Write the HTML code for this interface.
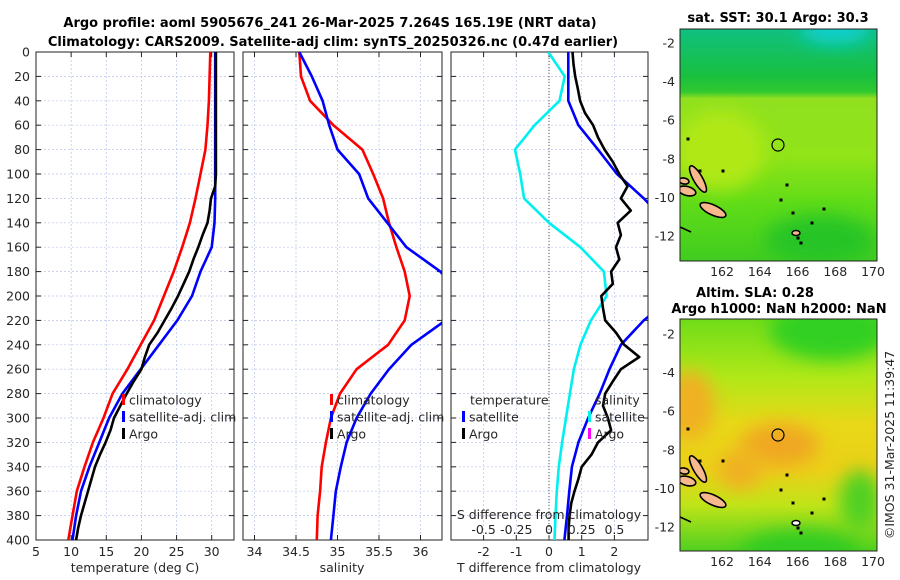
<!DOCTYPE html>
<html><head><meta charset="utf-8">
<style>
html,body{margin:0;padding:0;background:#fff;}
svg{display:block;font-family:"DejaVu Sans","Liberation Sans",sans-serif;}
.t{font-size:12.5px;fill:#262626;}
.b{font-size:13px;font-weight:bold;fill:#000;}
</style></head>
<body>
<svg id="fig" width="900" height="580" viewBox="0 0 900 580">
<defs>
<clipPath id="c1"><rect x="36" y="52" width="198" height="488"/></clipPath>
<clipPath id="c2"><rect x="243" y="52" width="199" height="488"/></clipPath>
<clipPath id="c3"><rect x="451" y="52" width="197" height="488"/></clipPath>
<clipPath id="cm1"><rect x="680" y="29" width="197" height="232"/></clipPath>
<clipPath id="cm2"><rect x="680" y="319" width="197" height="232"/></clipPath>
<filter id="blur" x="-50%" y="-50%" width="200%" height="200%"><feGaussianBlur stdDeviation="9"/></filter>
<linearGradient id="sstg" x1="0" y1="0" x2="0" y2="1">
<stop offset="0" stop-color="#10c080"/><stop offset="0.2" stop-color="#18c040"/>
<stop offset="0.27" stop-color="#30c830"/><stop offset="0.3" stop-color="#90e020"/>
<stop offset="0.55" stop-color="#90e418"/><stop offset="0.75" stop-color="#60dc18"/>
<stop offset="1" stop-color="#40cc20"/></linearGradient>
<linearGradient id="slag" x1="0" y1="0" x2="0" y2="1">
<stop offset="0" stop-color="#70dc18"/><stop offset="0.25" stop-color="#b0e818"/>
<stop offset="0.45" stop-color="#e8d818"/><stop offset="0.65" stop-color="#ecd018"/>
<stop offset="0.8" stop-color="#c0e418"/><stop offset="1" stop-color="#50d020"/></linearGradient>
</defs>
<g id="panels"></g>
<text class="b" x="330" y="27" text-anchor="middle">Argo profile: aoml 5905676_241 26-Mar-2025 7.264S 165.19E (NRT data)</text>
<text class="b" x="333" y="46" text-anchor="middle">Climatology: CARS2009. Satellite-adj clim: synTS_20250326.nc (0.47d earlier)</text>

<g>
<g clip-path="url(#cm1)">
<rect x="680" y="29" width="197" height="232" fill="url(#sstg)"/>
<ellipse cx="835" cy="30" rx="35" ry="14" fill="#10d0d0" filter="url(#blur)"/>
<ellipse cx="720" cy="150" rx="45" ry="40" fill="#b0e818" filter="url(#blur)"/>
<ellipse cx="820" cy="240" rx="55" ry="25" fill="#28c428" filter="url(#blur)"/>
<g id="isl1"></g>
</g>
<rect x="680" y="29" width="197" height="232" fill="none" stroke="#222" stroke-width="1"/>
<circle cx="778" cy="145" r="6" fill="none" stroke="#000" stroke-width="1.2"/>
</g>
<text class="b" x="778" y="22" text-anchor="middle">sat. SST: 30.1 Argo: 30.3</text>

<g>
<g clip-path="url(#cm2)">
<rect x="680" y="319" width="197" height="232" fill="url(#slag)"/>
<ellipse cx="830" cy="330" rx="60" ry="30" fill="#30d020" filter="url(#blur)"/>
<ellipse cx="690" cy="405" rx="25" ry="35" fill="#f0b020" filter="url(#blur)"/>
<ellipse cx="780" cy="445" rx="40" ry="22" fill="#f0a820" filter="url(#blur)"/>
<ellipse cx="740" cy="470" rx="22" ry="20" fill="#f0b020" filter="url(#blur)"/>
<ellipse cx="800" cy="552" rx="60" ry="22" fill="#30cc20" filter="url(#blur)"/>
<ellipse cx="860" cy="500" rx="20" ry="30" fill="#50d020" filter="url(#blur)"/>
<g id="isl2"></g>
</g>
<rect x="680" y="319" width="197" height="232" fill="none" stroke="#222" stroke-width="1"/>
<circle cx="778" cy="435" r="6" fill="none" stroke="#000" stroke-width="1.2"/>
</g>
<text class="b" x="755" y="297" text-anchor="middle">Altim. SLA: 0.28</text>
<text class="b" x="779" y="313" text-anchor="middle">Argo h1000: NaN h2000: NaN</text>
<text class="t" transform="translate(894,445) rotate(-90)" text-anchor="middle">©IMOS 31-Mar-2025 11:39:47</text>
</svg>
<script>
const depths = [0,20,40,60,80,100,120,140,160,180,200,220,240,260,280,300,320,340,360,380,400];
const tempClim = [29.8,29.7,29.6,29.4,29.1,28.4,27.7,26.9,25.8,24.6,23.2,21.8,19.9,18.0,15.9,14.6,13.1,11.9,10.8,10.2,9.6];
const tempSat = [30.5,30.5,30.5,30.5,30.5,30.5,30.5,30.4,30.0,28.4,27.2,25.1,22.5,19.9,17.3,15.4,14.0,12.6,11.4,10.7,10.2];
const argoDepths = [0,10,20,30,40,50,60,70,80,90,100,110,120,130,140,150,160,170,180,190,200,210,220,230,240,250,260,270,280,290,300,310,320,330,340,350,360,370,380,390,400];
const tempArgo = [30.6,30.6,30.6,30.6,30.6,30.6,30.6,30.6,30.6,30.6,30.6,30.5,29.9,29.7,29.4,28.7,28.1,27.4,26.8,26.0,25.2,24.3,23.3,22.3,21.1,20.5,20.0,18.9,17.9,17.0,16.1,15.6,14.9,14.1,13.4,12.9,12.4,11.9,11.4,11.0,10.7];
const salClim = [34.54,34.56,34.67,34.95,35.30,35.43,35.55,35.62,35.71,35.81,35.87,35.81,35.61,35.23,35.03,34.92,34.86,34.81,34.79,34.76,34.75];
const salSat = [34.54,34.69,34.82,34.90,35.00,35.26,35.37,35.60,35.83,36.24,36.50,36.30,35.89,35.62,35.40,35.23,35.11,35.04,34.98,34.95,34.92];
const dTempSat = [0.59,0.59,0.59,0.90,1.50,2.08,2.90,3.6,4.2,4.4,3.8,2.9,2.2,1.85,1.55,1.2,0.90,0.70,0.62,0.55,0.47];
const dTempArgo = [0.72,0.75,0.80,0.88,0.95,1.10,1.35,1.50,1.70,1.95,2.15,2.40,2.20,2.50,2.10,2.20,2.05,2.15,1.90,1.95,1.60,1.65,1.72,2.05,2.30,2.76,2.20,1.95,1.72,1.65,1.80,1.90,1.50,1.30,1.00,0.90,0.78,0.68,0.63,0.60,0.60];
const dSalSat = [-0.005,0.12,0.08,-0.11,-0.26,-0.22,-0.19,0.00,0.24,0.42,0.44,0.32,0.24,0.19,0.16,0.13,0.10,0.075,0.06,0.05,0.042];
const tempTicks = [5,10,15,20,25,30];
const salTicks = [34,34.5,35,35.5,36];
const salTickLabels = ['34','34.5','35','35.5','36'];
const dTTicks = [-2,-1,0,1,2];
const dSTicks = [-0.5,-0.25,0,0.25,0.5];
const dSTickLabels = ['-0.5','-0.25','0','0.25','0.5'];
const depthTicks = [0,20,40,60,80,100,120,140,160,180,200,220,240,260,280,300,320,340,360,380,400];
const latTicks = [-2,-4,-6,-8,-10,-12];
const lonTicks = [162,164,166,168,170];

const NS='http://www.w3.org/2000/svg';
const root=document.getElementById('panels');
function el(tag,attrs,parent,txt){const e=document.createElementNS(NS,tag);for(const k in attrs)e.setAttribute(k,attrs[k]);if(txt!==undefined)e.textContent=txt;(parent||root).appendChild(e);return e;}
const yD = d => 52 + d*(488/400);
const xT = t => 36 + (t-5)*(175.7/25);
const xS = s => 254.5 + (s-34)*83;
const xDT = t => 549 + t*32.7;
const xDS = s => 549 + s*4*32.7;

function frame(x0,x1,xticks,xfn,labels,gname){
  const g=el('g',{});
  
  
  depthTicks.forEach(d=>{const y=yD(d);
    el('line',{x1:x0,x2:x1,y1:y,y2:y,stroke:'#b8c4ec','stroke-width':0.7,'stroke-dasharray':'2,2'},g);
    el('line',{x1:x0,x2:x0+5,y1:y,y2:y,stroke:'#222'},g);
    el('line',{x1:x1-5,x2:x1,y1:y,y2:y,stroke:'#222'},g);});
  xticks.forEach((v,i)=>{const x=xfn(v);
    el('line',{x1:x,x2:x,y1:52,y2:540,stroke:'#b8c4ec','stroke-width':0.7,'stroke-dasharray':'2,2'},g);
    el('line',{x1:x,x2:x,y1:540,y2:535,stroke:'#222'},g);
    el('line',{x1:x,x2:x,y1:52,y2:57,stroke:'#222'},g);
    const t=el('text',{x:x,y:556,'text-anchor':'middle',class:'t'},g,labels?labels[i]:String(v));
    
    });
  el('rect',{x:x0,y:52,width:x1-x0,height:488,fill:'none',stroke:'#222','stroke-width':1},g);
  return g;
}
function line(xs,ys,xfn,color,clip,name,w){
  const pts=xs.map((v,i)=>xfn(v).toFixed(1)+','+yD(ys[i]).toFixed(1)).join(' ');
  const p=el('polyline',{points:pts,fill:'none',stroke:color,'stroke-width':w||2.6,'stroke-linejoin':'round','clip-path':'url(#'+clip+')'});
  
  
}
function legendEntry(x,y,color,txt,name){
  if(color) el('rect',{x:x,y:y-6,width:3,height:11,fill:color});
  const t=el('text',{x:x+7,y:y+4.5,class:'t','font-size':'13'},root,txt);
  
  
}
depthTicks.forEach(d=>{const t=el('text',{x:30,y:yD(d)+4.5,'text-anchor':'end',class:'t'},root,String(d));
  
  });

frame(36,234,tempTicks,xT,null,'temperature');
line(tempClim,depths,xT,'#ff0000','c1','temp-climatology-line');
line(tempSat,depths,xT,'#0000ff','c1','temp-satellite-line');
line(tempArgo,argoDepths,xT,'#000000','c1','temp-argo-line');
let t1=el('text',{x:135,y:572,'text-anchor':'middle',class:'t','font-size':'13'},root,'temperature (deg C)');


legendEntry(122,400,'#ff0000','climatology','temp-legend-climatology');
legendEntry(122,417,'#0000ff','satellite-adj. clim','temp-legend-satellite');
legendEntry(122,434,'#000000','Argo','temp-legend-argo');

frame(243,442,salTicks,xS,salTickLabels,'salinity');
line(salClim,depths,xS,'#ff0000','c2','sal-climatology-line');
line(salSat,depths,xS,'#0000ff','c2','sal-satellite-line');
let t2=el('text',{x:342,y:572,'text-anchor':'middle',class:'t','font-size':'13'},root,'salinity');


legendEntry(330,400,'#ff0000','climatology','sal-legend-climatology');
legendEntry(330,417,'#0000ff','satellite-adj. clim','sal-legend-satellite');
legendEntry(330,434,'#000000','Argo','sal-legend-argo');

frame(451,648,dTTicks,xDT,null,'tdiff');
el('line',{x1:xDT(0),x2:xDT(0),y1:52,y2:540,stroke:'#555','stroke-width':1,'stroke-dasharray':'1,2'});
line(dSalSat,depths,xDS,'#00f0f0','c3','sal-diff-satellite-line');
line(dTempSat,depths,xDT,'#0000ff','c3','temp-diff-satellite-line');
line(dTempArgo,argoDepths,xDT,'#000000','c3','temp-diff-argo-line');
let t3=el('text',{x:549,y:572,'text-anchor':'middle',class:'t','font-size':'13'},root,'T difference from climatology');


let t4=el('text',{x:549,y:519,'text-anchor':'middle',class:'t','font-size':'13'},root,'S difference from climatology');


dSTicks.forEach((v,i)=>{const t=el('text',{x:xDS(v),y:534,'text-anchor':'middle',class:'t'},root,dSTickLabels[i]);
  
  });
legendEntry(463,400,null,'temperature','diff-legend-temperature-header');
legendEntry(462,417,'#0000ff','satellite','diff-legend-temp-satellite');
legendEntry(462,434,'#000000','Argo','diff-legend-temp-argo');
legendEntry(588,400,null,'salinity','diff-legend-salinity-header');
legendEntry(588,417,'#00f0f0','satellite','diff-legend-sal-satellite');
legendEntry(588,434,'#ff00ff','Argo','diff-legend-sal-argo');

const lonX = l => 722 + (l-162)*18.875;
[[29,261,43],[319,551,334]].forEach(([top,bot,y2],mi)=>{
  const latY = la => y2 + (-2-la)*19.3;
  latTicks.forEach(la=>{const y=latY(la);
    el('line',{x1:680,x2:684,y1:y,y2:y,stroke:'#222'});
    el('line',{x1:873,x2:877,y1:y,y2:y,stroke:'#222'});
    const t=el('text',{x:675,y:y+4.5,'text-anchor':'end',class:'t'},root,String(la));
    
    });
  lonTicks.forEach(lo=>{const x=lonX(lo);
    el('line',{x1:x,x2:x,y1:bot,y2:bot-4,stroke:'#222'});
    const t=el('text',{x:x,y:bot+15,'text-anchor':'middle',class:'t'},root,String(lo));
    
    });
  const g=document.getElementById(mi?'isl2':'isl1');
  const ox=680, oy=top;
  const ell=(cx,cy,rx,ry,r)=>el('ellipse',{cx:ox+cx,cy:oy+cy,rx:rx,ry:ry,transform:`rotate(${r} ${ox+cx} ${oy+cy})`,fill:'#f6b88c',stroke:'#000','stroke-width':1.6},g);
  ell(18,150,15,4.5,60); ell(33,181,14,5,25); ell(7,162,9,4.5,15); ell(4,152,5,3,10);
  el('line',{x1:ox,y1:oy+198,x2:ox+11,y2:oy+203,stroke:'#000','stroke-width':1.6},g);
  [[113,184],[118,209],[132,194],[121,214],[144,180],[155,233],[107,156],[101,171],[43,142],[126,256],[8,110],[20,142]].forEach(([x,y])=>el('rect',{x:ox+x-1.5,y:oy+y-1.5,width:3,height:3,fill:'#000'},g));
  el('ellipse',{cx:ox+116,cy:oy+204,rx:4,ry:2.5,fill:mi?'#fff':'#f6b88c',stroke:'#000','stroke-width':1.5},g);
});
</script>
</body></html>
